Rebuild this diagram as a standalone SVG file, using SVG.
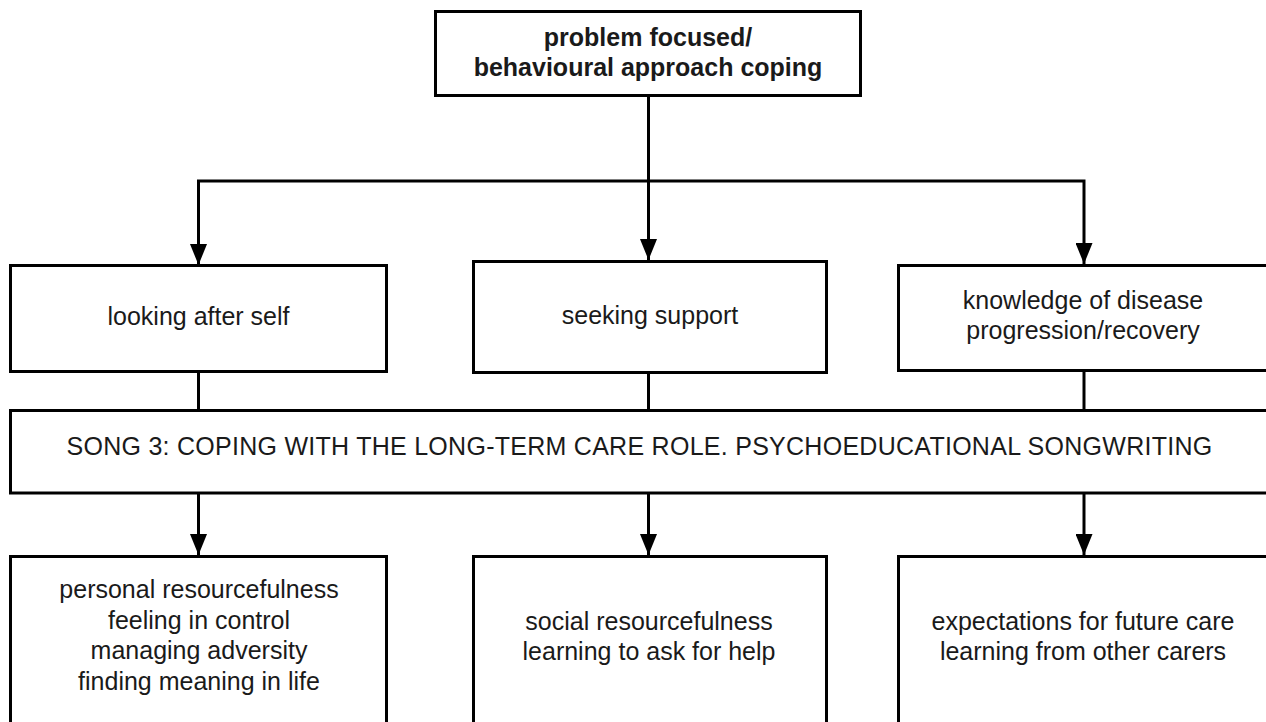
<svg xmlns="http://www.w3.org/2000/svg" width="1266" height="722" viewBox="0 0 1266 722">
  <style>
    .box { fill: #ffffff; stroke: #000000; stroke-width: 3; }
    .conn { fill: none; stroke: #000000; stroke-width: 3; }
    .t { font-family: "Liberation Sans", Arial, sans-serif; font-size: 25px; fill: #1a1a1a; text-anchor: middle; }
    .b { font-weight: bold; }
  </style>
  <defs>
    <marker id="arrow" viewBox="0 0 21 17" refX="21" refY="8.5" markerWidth="21" markerHeight="17" markerUnits="userSpaceOnUse" orient="auto">
      <path d="M0,0 L21,8.5 L0,17 z" fill="#000000"/>
    </marker>
  </defs>
  <rect width="1266" height="722" fill="#ffffff"/>

  <g id="connectors">
    <path class="conn" d="M648.5,96 L648.5,260" marker-end="url(#arrow)"/>
    <path class="conn" d="M648.5,181 L198.5,181 L198.5,265" marker-end="url(#arrow)"/>
    <path class="conn" d="M648.5,181 L1084,181 L1084,264" marker-end="url(#arrow)"/>
    <path class="conn" d="M198.5,372 L198.5,410"/>
    <path class="conn" d="M648.5,373 L648.5,410"/>
    <path class="conn" d="M1084,371 L1084,410"/>
    <path class="conn" d="M198.5,493 L198.5,555" marker-end="url(#arrow)"/>
    <path class="conn" d="M648.5,493 L648.5,555" marker-end="url(#arrow)"/>
    <path class="conn" d="M1084,493 L1084,555" marker-end="url(#arrow)"/>
  </g>

  <g id="node-top">
    <rect class="box" x="435.5" y="11.5" width="425" height="84"/>
    <text class="t b" x="648" y="46">problem focused/</text>
    <text class="t b" x="648" y="76">behavioural approach coping</text>
  </g>

  <g id="node-self">
    <rect class="box" x="10.5" y="265.5" width="376" height="106"/>
    <text class="t" x="198.5" y="325">looking after self</text>
  </g>

  <g id="node-support">
    <rect class="box" x="473.5" y="261.5" width="353" height="111"/>
    <text class="t" x="650" y="324">seeking support</text>
  </g>

  <g id="node-knowledge">
    <rect class="box" x="898.5" y="265.5" width="380" height="105"/>
    <text class="t" x="1083" y="309">knowledge of disease</text>
    <text class="t" x="1083" y="339">progression/recovery</text>
  </g>

  <g id="node-song">
    <rect class="box" x="10.5" y="410.5" width="1265" height="82.5"/>
    <text class="t" x="639.5" y="455" letter-spacing="0.27">SONG 3: COPING WITH THE LONG-TERM CARE ROLE. PSYCHOEDUCATIONAL SONGWRITING</text>
  </g>

  <g id="node-personal">
    <rect class="box" x="10.5" y="556.5" width="376" height="200"/>
    <text class="t" x="199" y="598">personal resourcefulness</text>
    <text class="t" x="199" y="629">feeling in control</text>
    <text class="t" x="199" y="659">managing adversity</text>
    <text class="t" x="199" y="690">finding meaning in life</text>
  </g>

  <g id="node-social">
    <rect class="box" x="473.5" y="556.5" width="353" height="200"/>
    <text class="t" x="649" y="630">social resourcefulness</text>
    <text class="t" x="649" y="660">learning to ask for help</text>
  </g>

  <g id="node-expectations">
    <rect class="box" x="898.5" y="556.5" width="380" height="200"/>
    <text class="t" x="1083" y="630">expectations for future care</text>
    <text class="t" x="1083" y="660">learning from other carers</text>
  </g>
</svg>
